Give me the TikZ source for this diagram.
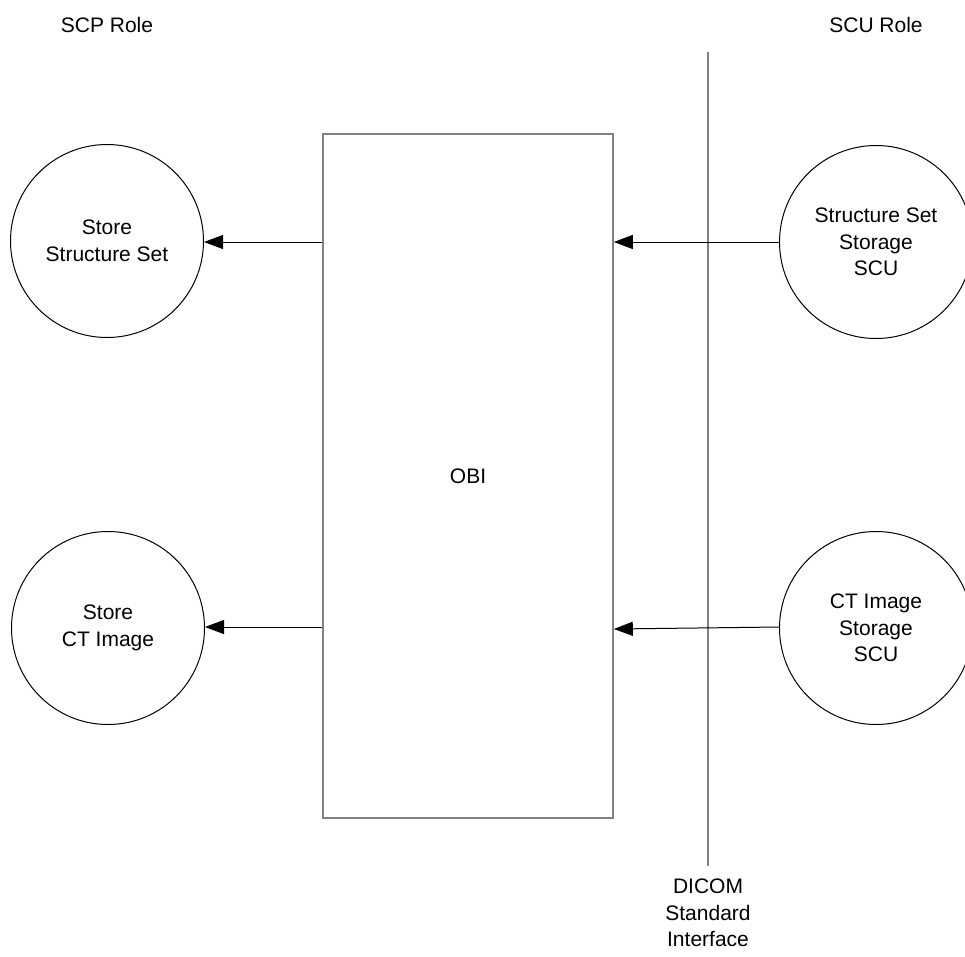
\documentclass[tikz,border=0pt]{standalone}
\usepackage{fontspec}
\setmainfont{Liberation Sans}
\usetikzlibrary{arrows.meta}
\begin{document}
\begin{tikzpicture}[x=1pt,y=-1pt,
  every node/.style={font=\fontsize{21}{26.5}\selectfont, align=center, inner sep=0pt},
  proc/.style={draw=black, line width=1pt, circle, minimum size=193pt},
  grayline/.style={draw=black!50, line width=1.6pt},
  flow/.style={draw=black, line width=1pt, -{Triangle[length=19pt,width=14pt]}}]
\useasboundingbox (0,0) rectangle (965,956);
% labels
\node (scp) at (107,25) {SCP Role};
\node (scu) at (876,25) {SCU Role};
% OBI box
\node[grayline, draw, rectangle, minimum width=290pt, minimum height=684pt] (obi) at (468,476) {OBI};
% interface line
\coordinate (itop) at (708,52);
\coordinate (ibot) at (708,866);
\draw[grayline] (itop) -- (ibot);
\node (dicom) at (708,913) {DICOM\\Standard\\Interface};
% circles
\node[proc] (sss) at (107,241) {Store\\Structure Set};
\node[proc] (sct) at (108,628) {Store\\CT Image};
\node[proc] (ssu) at (876,242) {Structure Set\\Storage\\SCU};
\node[proc] (ctu) at (876,628) {CT Image\\Storage\\SCU};
% connection points on box
\coordinate (oL1) at (obi.west |- 0,242);
\coordinate (oL2) at (obi.west |- 0,627);
\coordinate (oR1) at (obi.east |- 0,242);
\coordinate (oR2) at (obi.east |- 0,629);
\coordinate (cL1) at (sss.east |- 0,242);
\coordinate (cL2) at (sct.east |- 0,627);
\coordinate (cR1) at (ssu.west |- 0,242);
\coordinate (cR2) at (ctu.west |- 0,627);
\draw[flow] (oL1) -- (cL1);
\draw[flow] (oL2) -- (cL2);
\draw[flow] (cR1) -- (oR1);
\draw[flow] (cR2) -- (oR2);
\end{tikzpicture}
\end{document}
